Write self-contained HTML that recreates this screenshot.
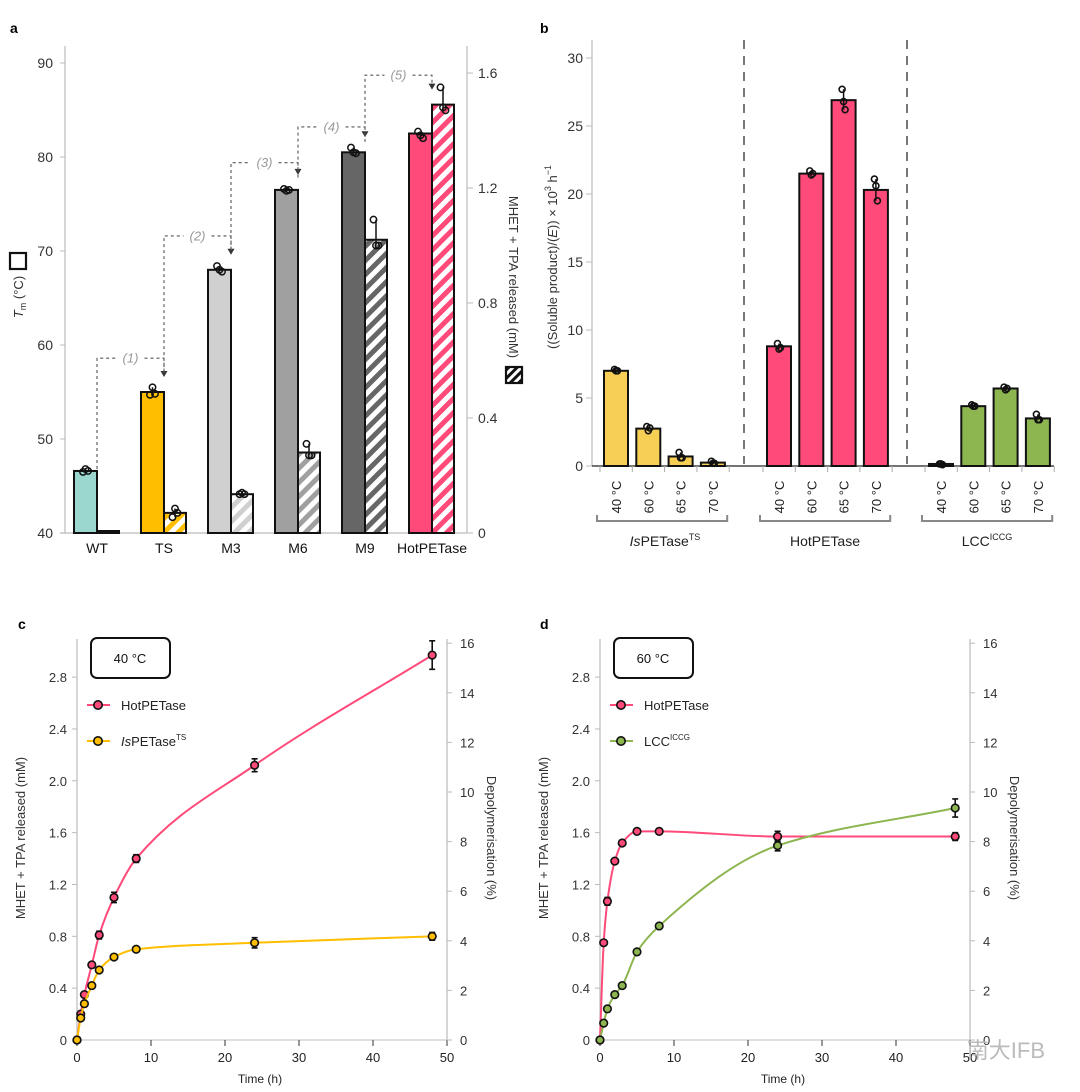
<!DOCTYPE html>
<html><head><meta charset="utf-8">
<style>
html,body{margin:0;padding:0;background:#fff;}
svg{display:block;font-family:"Liberation Sans","Noto Sans CJK SC",sans-serif;}
</style></head>
<body>
<svg id="fig" width="1080" height="1092" viewBox="0 0 1080 1092" xmlns="http://www.w3.org/2000/svg">
<defs>
<pattern id="h-yellow" patternUnits="userSpaceOnUse" width="10" height="10" patternTransform="rotate(45)"><rect width="10" height="10" fill="#fff"/><rect width="5" height="10" fill="#ffbf00"/></pattern>
<pattern id="h-light" patternUnits="userSpaceOnUse" width="10" height="10" patternTransform="rotate(45)"><rect width="10" height="10" fill="#fff"/><rect width="5" height="10" fill="#d0d0d0"/></pattern>
<pattern id="h-mid" patternUnits="userSpaceOnUse" width="10" height="10" patternTransform="rotate(45)"><rect width="10" height="10" fill="#fff"/><rect width="5" height="10" fill="#a0a0a0"/></pattern>
<pattern id="h-dark" patternUnits="userSpaceOnUse" width="10" height="10" patternTransform="rotate(45)"><rect width="10" height="10" fill="#fff"/><rect width="5" height="10" fill="#666"/></pattern>
<pattern id="h-pink" patternUnits="userSpaceOnUse" width="10" height="10" patternTransform="rotate(45)"><rect width="10" height="10" fill="#fff"/><rect width="5" height="10" fill="#ff4a7a"/></pattern>
<pattern id="h-black" patternUnits="userSpaceOnUse" width="6" height="6" patternTransform="rotate(45)"><rect width="6" height="6" fill="#fff"/><rect width="3" height="6" fill="#111"/></pattern>
</defs>
<text x="10" y="33" font-size="14" font-weight="bold">a</text>
<text x="540" y="33" font-size="14" font-weight="bold">b</text>
<text x="18" y="629" font-size="14" font-weight="bold">c</text>
<text x="540" y="629" font-size="14" font-weight="bold">d</text>
<g id="pa"></g>
<g id="pb"></g>
<g id="pc"></g>
<g id="pd"></g>
<text x="1045" y="1058" font-size="22" fill="#bbb" text-anchor="end">南大IFB</text>
</svg>
<script>
// ---------- Panel a data ----------
var aCats = ['WT','TS','M3','M6','M9','HotPETase'];
var aTm = [46.6,55.0,68.0,76.5,80.5,82.5];
var aTmReps = [[46.5,46.8,46.6],[54.7,55.5,54.8],[68.4,68.0,67.8],[76.6,76.4,76.5],[81.0,80.5,80.4],[82.7,82.3,82.0]];
var aRel = [0.005,0.07,0.135,0.28,1.02,1.49];
var aRelReps = [[0.005],[0.055,0.085,0.07],[0.135,0.14,0.135],[0.31,0.27,0.27],[1.09,1.0,1.0],[1.55,1.48,1.47]];
var aTicksL = [40,50,60,70,80,90];
var aTicksR = [0,0.4,0.8,1.2,1.6];
var aConnLevels = [58.6,71.6,79.4,83.2,88.7];
var aConnLabels = ['(1)','(2)','(3)','(4)','(5)'];
// ---------- Panel b data ----------
var bGroups = ['IsPETase','HotPETase','LCC'];
var bTemps = ['40 °C','60 °C','65 °C','70 °C'];
var bIs = [7.0,2.75,0.7,0.25];
var bHot = [8.8,21.5,26.9,20.3];
var bLcc = [0.15,4.4,5.7,3.5];
var bIsReps = [[7.1,7.0,7.0],[2.9,2.6,2.8],[1.0,0.6,0.6],[0.35,0.2,0.2]];
var bHotReps = [[9.0,8.6,8.7],[21.7,21.4,21.5],[27.7,26.8,26.2],[21.1,20.6,19.5]];
var bLccReps = [[0.15,0.15,0.1],[4.5,4.4,4.4],[5.8,5.6,5.7],[3.8,3.4,3.4]];
var bTicks = [0,5,10,15,20,25,30];
// ---------- Panel c/d data ----------
var tHours = [0,0.5,1,2,3,5,8,24,48];
var cHot = [0,0.2,0.35,0.58,0.81,1.1,1.4,2.12,2.97];
var cHotErr = [0,0.02,0.02,0.02,0.03,0.04,0.03,0.05,0.11];
var cIs = [0,0.17,0.28,0.42,0.54,0.64,0.7,0.75,0.8];
var cIsErr = [0,0.01,0.01,0.01,0.01,0.01,0.01,0.04,0.03];
var dHot = [0,0.75,1.07,1.38,1.52,1.61,1.61,1.57,1.57];
var dHotErr = [0,0.01,0.03,0.02,0.02,0.01,0.01,0.04,0.03];
var dLcc = [0,0.13,0.24,0.35,0.42,0.68,0.88,1.5,1.79];
var dLccErr = [0,0.01,0.01,0.01,0.01,0.01,0.01,0.04,0.07];
var xTicks = [0,10,20,30,40,50];
var yTicksMM = [0,0.4,0.8,1.2,1.6,2.0,2.4,2.8];
var yTicksPct = [0,2,4,6,8,10,12,14,16];

var NS = 'http://www.w3.org/2000/svg';
function el(tag, parent, attrs){ var e=document.createElementNS(NS,tag); for(var k in attrs) e.setAttribute(k,attrs[k]); parent.appendChild(e); return e; }
function fmt(v){ return (v===0)?'0':v.toFixed(1); }

// ================= Panel a =================
(function(){
  var g=document.getElementById('pa');
  var yT=function(v){return 533-(v-40)*9.4;};
  var yR=function(v){return 533-v*287.5;};
  var cx=function(i){return 97+i*67;};
  var fills=['#9bd6cf','#ffbf00','#d0d0d0','#a0a0a0','#666666','#ff4a7a'];
  var hatch=['#111','url(#h-yellow)','url(#h-light)','url(#h-mid)','url(#h-dark)','url(#h-pink)'];
  var e;
  e=el('line',g,{x1:65,y1:46,x2:65,y2:533,stroke:'#bbb','stroke-width':1.2});
   
  e=el('line',g,{x1:467,y1:46,x2:467,y2:533,stroke:'#bbb','stroke-width':1.2});
   
  e=el('line',g,{x1:60,y1:533,x2:467,y2:533,stroke:'#bbb','stroke-width':1.2});
   
  aTicksL.forEach(function(v){
    el('line',g,{x1:60,y1:yT(v),x2:65,y2:yT(v),stroke:'#bbb'});
    e=el('text',g,{x:53,y:yT(v)+5,'font-size':14,fill:'#333','text-anchor':'end'}); e.textContent=v;
     
  });
  aTicksR.forEach(function(v){
    el('line',g,{x1:467,y1:yR(v),x2:473,y2:yR(v),stroke:'#bbb'});
    e=el('text',g,{x:478,y:yR(v)+5,'font-size':14,fill:'#333'}); e.textContent=fmt(v);
     
  });
  for(var k=0;k<aConnLevels.length;k++){
    var sx=cx(k), tx=cx(k+1), ly=yT(aConnLevels[k]);
    var srcTop=Math.min(yT(aTm[k]),yR(aRel[k]));
    var tgtTop=Math.min(yT(aTm[k+1]),yR(aRel[k+1]));
    var tip=tgtTop-15;
    var sy = k===0 ? srcTop-2 : Math.min(srcTop-8, yT(aConnLevels[k-1])-15+30);
    var mid=(sx+tx)/2;
    e=el('path',g,{d:'M'+sx+','+sy+'V'+ly+'H'+(mid-14)+'M'+(mid+14)+','+ly+'H'+tx+'V'+(tip-6),fill:'none',stroke:'#555','stroke-width':1.1,'stroke-dasharray':'3,3'});
     
    el('path',g,{d:'M'+(tx-3.5)+','+(tip-6)+'L'+(tx+3.5)+','+(tip-6)+'L'+tx+','+tip+'Z',fill:'#333'});
    e=el('text',g,{x:mid,y:ly+4.5,'font-size':13,fill:'#999','font-style':'italic','text-anchor':'middle'}); e.textContent=aConnLabels[k];
     
  }
  aCats.forEach(function(c,i){
    var x=cx(i);
    e=el('rect',g,{x:x-23,y:yT(aTm[i]),width:23,height:533-yT(aTm[i]),fill:fills[i],stroke:'#111','stroke-width':2});
     
    var h=Math.max(533-yR(aRel[i]),2);
    e=el('rect',g,{x:x,y:533-h,width:22,height:h,fill:hatch[i],stroke:'#111','stroke-width':2});
     
    var r1=aTmReps[i], r2=aRelReps[i];
    var mn=Math.min.apply(null,r1), mx=Math.max.apply(null,r1);
    el('line',g,{x1:x-11.5,y1:yT(mn),x2:x-11.5,y2:yT(mx),stroke:'#111','stroke-width':1.5});
    r1.forEach(function(v,j){ e=el('circle',g,{cx:x-11.5+(j-1)*2.5,cy:yT(v),r:3.2,fill:'none',stroke:'#111','stroke-width':1.5});   });
    if(i>0){
      mn=Math.min.apply(null,r2); mx=Math.max.apply(null,r2);
      el('line',g,{x1:x+11,y1:yR(mn),x2:x+11,y2:yR(mx),stroke:'#111','stroke-width':1.5});
      r2.forEach(function(v,j){ e=el('circle',g,{cx:x+11+(j-1)*2.5,cy:yR(v),r:3.2,fill:'none',stroke:'#111','stroke-width':1.5});   });
    }
    e=el('text',g,{x:x,y:553,'font-size':14,fill:'#111','text-anchor':'middle'}); e.textContent=c;
     
  });
  e=el('text',g,{x:0,y:0,'font-size':13,fill:'#333','text-anchor':'middle',transform:'translate(23,297) rotate(-90)'});
  e.innerHTML='<tspan font-style="italic">T</tspan><tspan font-size="9" dy="3">m</tspan><tspan dy="-3"> (°C)</tspan>';
   
  e=el('rect',g,{x:10,y:253,width:16,height:16,fill:'#fff',stroke:'#111','stroke-width':2.2});
   
  e=el('text',g,{x:0,y:0,'font-size':13,fill:'#333','text-anchor':'middle',transform:'translate(509,277) rotate(90)'});
  e.textContent='MHET + TPA released (mM)';
   
  e=el('rect',g,{x:506,y:367,width:16,height:16,fill:'url(#h-black)',stroke:'#111','stroke-width':2.2});
   
})();

// ================= Panel b =================
(function(){
  var g=document.getElementById('pb');
  var yB=function(v){return 466-v*13.6;};
  var starts=[604,767,929];
  var data=[bIs,bHot,bLcc], reps=[bIsReps,bHotReps,bLccReps];
  var cols=['#f7cf55','#ff4a7a','#8db550'];
  var e;
  e=el('line',g,{x1:592,y1:40,x2:592,y2:466,stroke:'#bbb','stroke-width':1.2});
   
  e=el('line',g,{x1:592,y1:466,x2:1054,y2:466,stroke:'#222','stroke-width':1.3});
   
  bTicks.forEach(function(v){
    el('line',g,{x1:586,y1:yB(v),x2:592,y2:yB(v),stroke:'#bbb'});
    e=el('text',g,{x:583,y:yB(v)+5,'font-size':14,fill:'#333','text-anchor':'end'}); e.textContent=v;
     
  });
  [744,907].forEach(function(x){
    e=el('line',g,{x1:x,y1:40,x2:x,y2:464,stroke:'#777','stroke-width':2,'stroke-dasharray':'9,7'});
     
  });
  data.forEach(function(arr,gi){
    for(var i=0;i<arr.length;i++){
      var x=starts[gi]+i*32.3;
      el('line',g,{x1:x-4,y1:466,x2:x-4,y2:472,stroke:'#aaa'});
      var h=Math.max(466-yB(arr[i]),2);
      e=el('rect',g,{x:x,y:466-h,width:24,height:h,fill:cols[gi],stroke:'#111','stroke-width':2});
      
      
      var r=reps[gi][i], mn=Math.min.apply(null,r), mx=Math.max.apply(null,r);
      el('line',g,{x1:x+12,y1:yB(mn),x2:x+12,y2:yB(mx),stroke:'#111','stroke-width':1.5});
      r.forEach(function(v,j){ e=el('circle',g,{cx:x+12+(j-1)*1.5,cy:yB(v),r:3,fill:'none',stroke:'#111','stroke-width':1.6});   });
      e=el('text',g,{x:0,y:0,'font-size':13,fill:'#222','text-anchor':'middle',transform:'translate('+(x+17)+',497) rotate(-90)'});
      e.textContent=bTemps[i];
       
    }
    el('line',g,{x1:starts[gi]+4*32.3-4,y1:466,x2:starts[gi]+4*32.3-4,y2:472,stroke:'#aaa'});
    var bx0=starts[gi]-7, bx1=starts[gi]+4*32.3-6;
    e=el('path',g,{d:'M'+bx0+',515V521H'+bx1+'V515',fill:'none',stroke:'#888','stroke-width':2});
     
  });
  var labs=[[665,'<tspan font-style="italic">Is</tspan>PETase<tspan font-size="9" dy="-6">TS</tspan>'],[825,'HotPETase'],[987,'LCC<tspan font-size="9" dy="-6">ICCG</tspan>']];
  labs.forEach(function(l){ e=el('text',g,{x:l[0],y:546,'font-size':14,fill:'#222','text-anchor':'middle'}); e.innerHTML=l[1];   });
  e=el('text',g,{x:0,y:0,'font-size':13,fill:'#333','text-anchor':'middle',transform:'translate(557,257) rotate(-90)'});
  e.innerHTML='((Soluble product)/(<tspan font-style="italic">E</tspan>)) × 10<tspan font-size="9" dy="-6">3</tspan><tspan dy="6"> h</tspan><tspan font-size="9" dy="-6">−1</tspan>';
   
})();

// ================= Panels c/d =================
function monoPath(xs,ys){
  var n=xs.length, d=[], m=[], i;
  for(i=0;i<n-1;i++) d.push((ys[i+1]-ys[i])/(xs[i+1]-xs[i]));
  m[0]=d[0]; m[n-1]=d[n-2];
  for(i=1;i<n-1;i++){ if(d[i-1]*d[i]<=0) m[i]=0; else { var w1=2*(xs[i+1]-xs[i])+(xs[i]-xs[i-1]), w2=(xs[i+1]-xs[i])+2*(xs[i]-xs[i-1]); m[i]=(w1+w2)/(w1/d[i-1]+w2/d[i]); } }
  var p='M'+xs[0]+','+ys[0];
  for(i=0;i<n-1;i++){ var h=xs[i+1]-xs[i]; p+='C'+(xs[i]+h/3)+','+(ys[i]+m[i]*h/3)+' '+(xs[i+1]-h/3)+','+(ys[i+1]-m[i+1]*h/3)+' '+xs[i+1]+','+ys[i+1]; }
  return p;
}
function timeChart(gid, x0, series, tempLabel, prefix){
  var g=document.getElementById(gid), e;
  var X=function(t){return x0+t*7.4;};
  var Y=function(v){return 1040-v*129.6;};
  var YP=function(p){return 1040-p*24.8;};
  var xr=x0+370;
  e=el('line',g,{x1:x0,y1:639,x2:x0,y2:1040,stroke:'#bbb','stroke-width':1.2});  
  e=el('line',g,{x1:xr,y1:639,x2:xr,y2:1040,stroke:'#bbb','stroke-width':1.2});  
  e=el('line',g,{x1:x0,y1:1040,x2:xr,y2:1040,stroke:'#ccc','stroke-width':1.2});  
  xTicks.forEach(function(t){ el('line',g,{x1:X(t),y1:1040,x2:X(t),y2:1046,stroke:'#333'}); e=el('text',g,{x:X(t),y:1062,'font-size':13,fill:'#222','text-anchor':'middle'}); e.textContent=t;   });
  yTicksMM.forEach(function(v){ el('line',g,{x1:x0-5,y1:Y(v),x2:x0,y2:Y(v),stroke:'#bbb'}); e=el('text',g,{x:x0-10,y:Y(v)+5,'font-size':13,fill:'#333','text-anchor':'end'}); e.textContent=fmt(v);   });
  yTicksPct.forEach(function(v){ el('line',g,{x1:xr,y1:YP(v),x2:xr+5,y2:YP(v),stroke:'#bbb'}); e=el('text',g,{x:xr+13,y:YP(v)+5,'font-size':13,fill:'#333'}); e.textContent=v;   });
  e=el('text',g,{x:x0+183,y:1083,'font-size':12,fill:'#222','text-anchor':'middle'}); e.textContent='Time (h)';  
  e=el('text',g,{x:0,y:0,'font-size':13,fill:'#333','text-anchor':'middle',transform:'translate('+(x0-52)+',838) rotate(-90)'}); e.textContent='MHET + TPA released (mM)';  
  e=el('text',g,{x:0,y:0,'font-size':13,fill:'#333','text-anchor':'middle',transform:'translate('+(xr+40)+',838) rotate(90)'}); e.textContent='Depolymerisation (%)';  
  e=el('rect',g,{x:x0+14,y:638,width:79,height:40,rx:6,fill:'#fff',stroke:'#111','stroke-width':2});  
  e=el('text',g,{x:x0+53,y:663,'font-size':13,fill:'#111','text-anchor':'middle'}); e.textContent=tempLabel;  
  series.forEach(function(s,si){
    var xs=tHours.map(X), ys=s.v.map(Y);
    e=el('path',g,{d:monoPath(xs,ys),fill:'none',stroke:s.c,'stroke-width':2});  
    for(var i=0;i<s.v.length;i++){
      if(s.e[i]>=0.03){ var a=Y(s.v[i]-s.e[i]), b=Y(s.v[i]+s.e[i]); el('path',g,{d:'M'+(xs[i]-3)+','+a+'H'+(xs[i]+3)+'M'+xs[i]+','+a+'V'+b+'M'+(xs[i]-3)+','+b+'H'+(xs[i]+3),stroke:'#111','stroke-width':1.6,fill:'none'}); }
      e=el('circle',g,{cx:xs[i],cy:ys[i],r:3.8,fill:s.c,stroke:'#111','stroke-width':1.6});  
    }
    var ly=705+si*36;
    el('line',g,{x1:x0+10,y1:ly,x2:x0+33,y2:ly,stroke:s.c,'stroke-width':2});
    e=el('circle',g,{cx:x0+21,cy:ly,r:4.2,fill:s.c,stroke:'#111','stroke-width':1.6});  
    e=el('text',g,{x:x0+44,y:ly+5,'font-size':13,fill:'#222'}); e.innerHTML=s.label;  
  });
}
timeChart('pc',77,[
  {n:'hotpetase',v:cHot,e:cHotErr,c:'#ff4a7a',label:'HotPETase'},
  {n:'ispetase',v:cIs,e:cIsErr,c:'#ffbf00',label:'<tspan font-style="italic">Is</tspan>PETase<tspan font-size="8" dy="-6">TS</tspan>'}
],'40 °C','c');
timeChart('pd',600,[
  {n:'hotpetase',v:dHot,e:dHotErr,c:'#ff4a7a',label:'HotPETase'},
  {n:'lcc',v:dLcc,e:dLccErr,c:'#8db550',label:'LCC<tspan font-size="8" dy="-6">ICCG</tspan>'}
],'60 °C','d');
</script>
</body></html>
